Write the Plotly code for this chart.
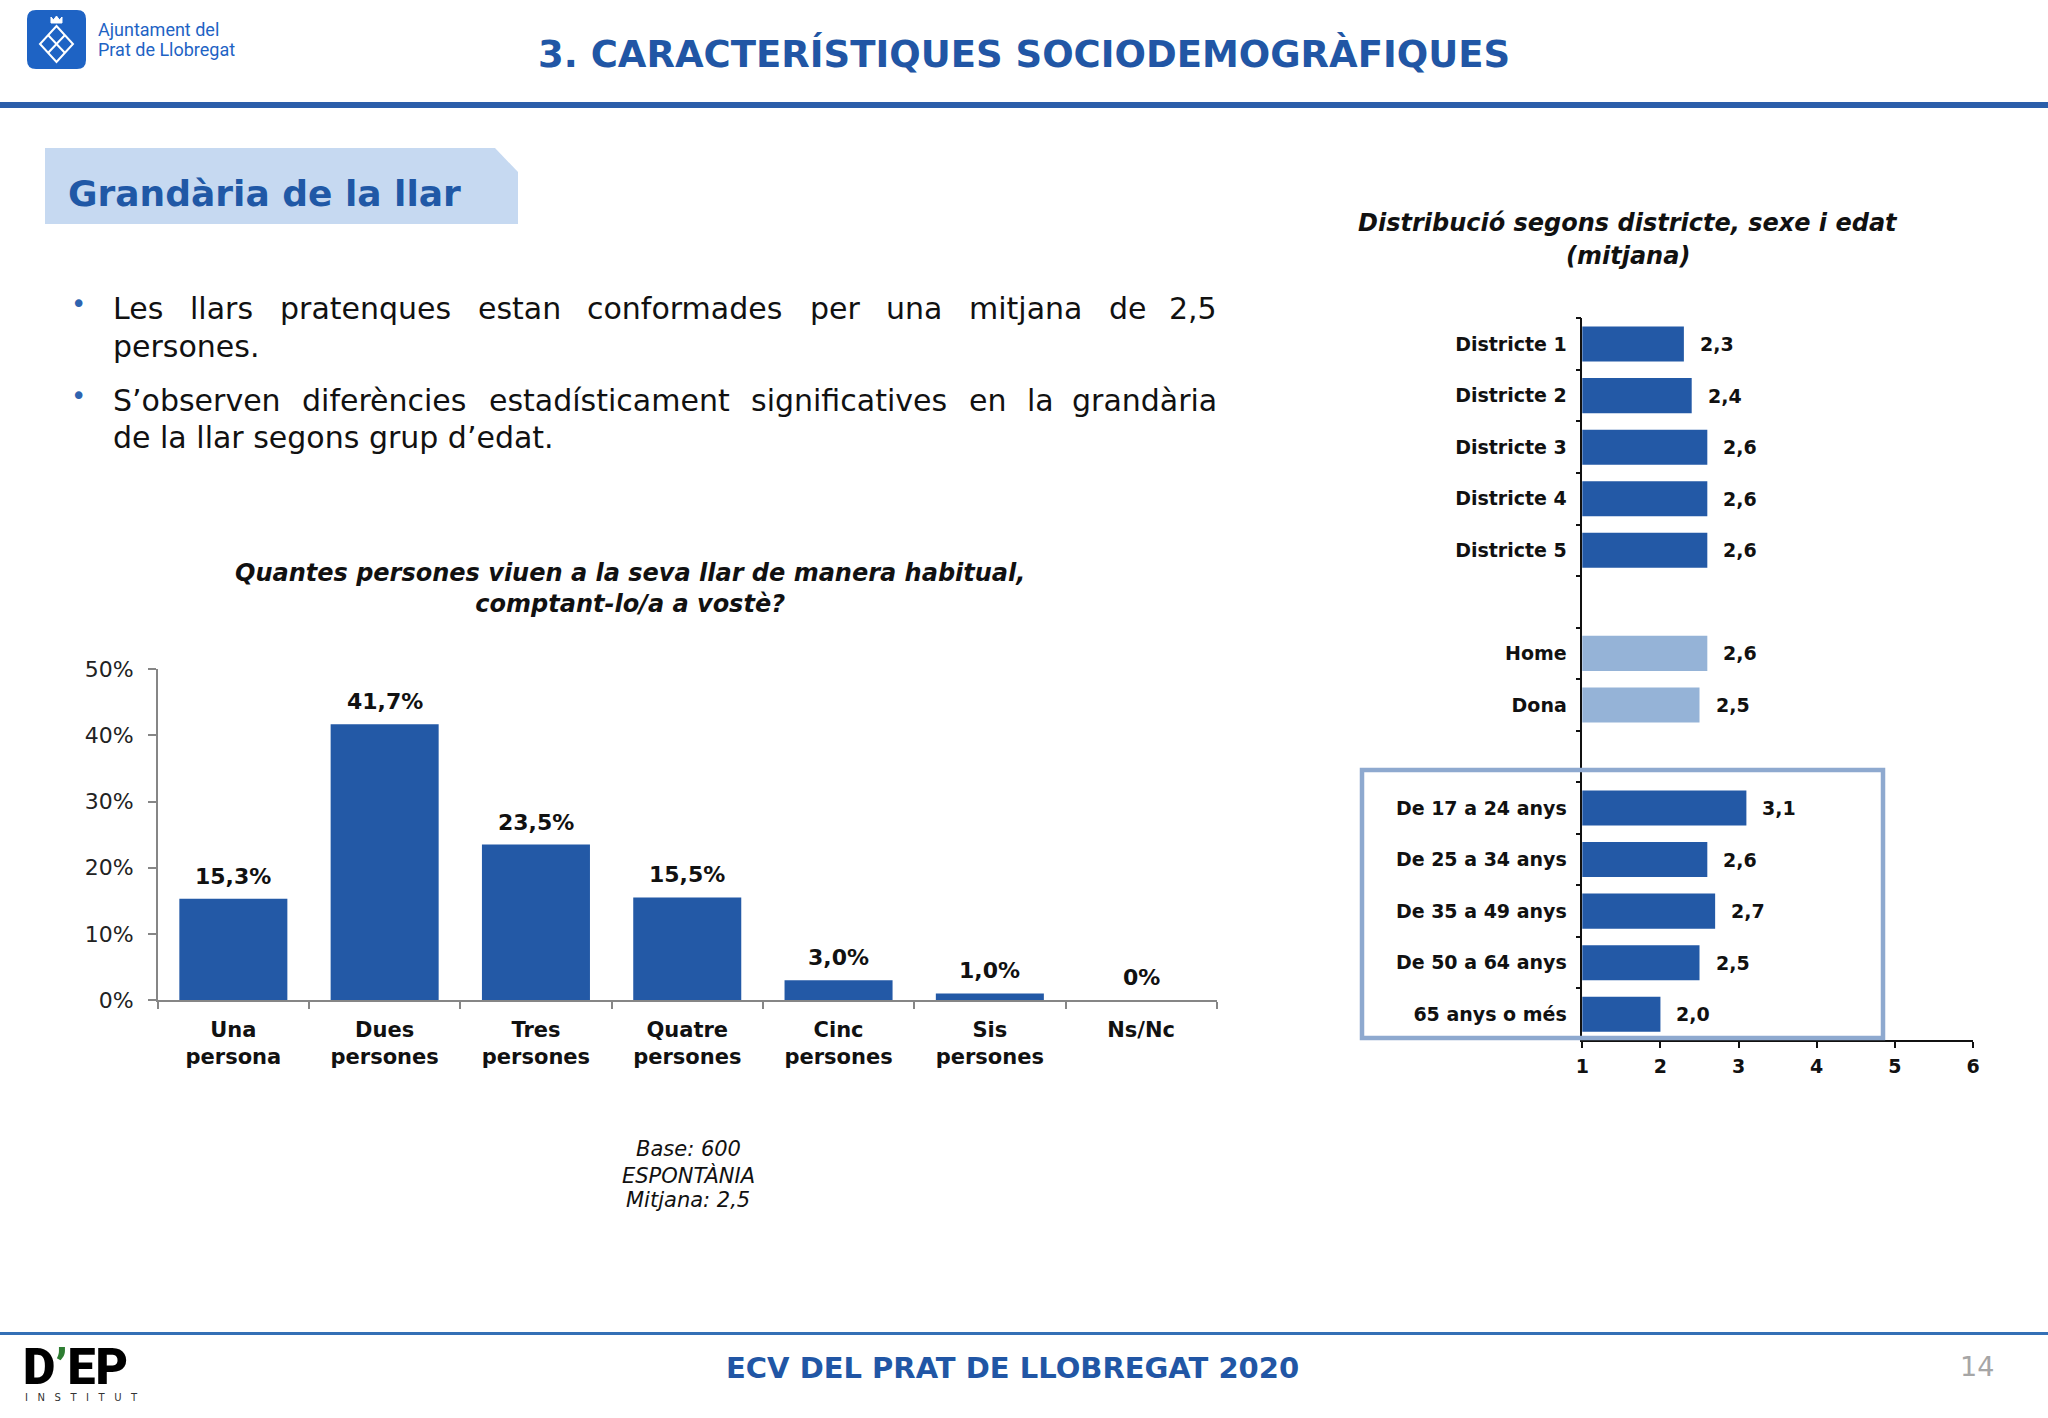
import plotly.graph_objects as go

W, H = 2048, 1418

# ---------------- data ----------------
size_categories = ["Una<br>persona", "Dues<br>persones", "Tres<br>persones",
                   "Quatre<br>persones", "Cinc<br>persones", "Sis<br>persones", "Ns/Nc"]
size_pct = [15.3, 41.7, 23.5, 15.5, 3.0, 1.0, 0.0]
pct_ticks = [0, 10, 20, 30, 40, 50]
pct_tick_labels = [f"{t}%" for t in pct_ticks]

group_labels = ["Districte 1", "Districte 2", "Districte 3", "Districte 4", "Districte 5",
                " ", "Home", "Dona", "  ",
                "De 17 a 24 anys", "De 25 a 34 anys", "De 35 a 49 anys",
                "De 50 a 64 anys", "65 anys o més"]
group_means = [2.3, 2.4, 2.6, 2.6, 2.6, None, 2.6, 2.5, None, 3.1, 2.6, 2.7, 2.5, 2.0]
group_kind = ["district"] * 5 + ["gap"] + ["sex"] * 2 + ["gap"] + ["age"] * 5
mean_ticks = [1, 2, 3, 4, 5, 6]

bullet_1 = ["Les llars pratenques estan conformades per una mitjana de 2,5", "persones."]
bullet_2 = ["S’observen diferències estadísticament significatives en la grandària",
            "de la llar segons grup d’edat."]

# ---------------- styles ----------------
DARK = "#2359A6"
LIGHT = "#95B3D7"
TITLE_BLUE = "#2156A5"
FONT = "DejaVu Sans"
NARROW = "Roboto, Liberation Sans, sans-serif"
kind_color = {"district": DARK, "sex": LIGHT, "age": DARK, "gap": DARK}


def fx(x):
    return x / W


def fy(y):
    return 1 - y / H


def fmt_pct(v):
    return "0%" if v == 0 else f"{v:.1f}".replace(".", ",") + "%"


def fmt_mean(v):
    return f"{v:.1f}".replace(".", ",")


annotations = []
shapes = []


def text(x, y, s, size, color="#111111", bold=False, italic=False,
         xanchor="center", yanchor="middle", family=FONT, weight=None):
    annotations.append(dict(
        x=fx(x), y=fy(y), xref="paper", yref="paper", text=s, showarrow=False,
        xanchor=xanchor, yanchor=yanchor, align="center",
        font=dict(family=family, size=size, color=color,
                  weight=weight if weight else ("bold" if bold else "normal"),
                  style="italic" if italic else "normal")))


# approximate DejaVu Sans advance widths (em/1000)
CW = {' ': 318, 'a': 613, 'b': 635, 'c': 550, 'd': 635, 'e': 615, 'f': 352, 'g': 635,
      'h': 634, 'i': 278, 'j': 278, 'k': 579, 'l': 278, 'm': 974, 'n': 634, 'o': 612,
      'p': 635, 'q': 635, 'r': 411, 's': 521, 't': 392, 'u': 634, 'v': 592, 'w': 818,
      'x': 592, 'y': 592, 'z': 525, ',': 318, '.': 318, '’': 318, 'L': 557, 'S': 635,
      'à': 613, 'è': 615, 'í': 278}


def word_w(w, size):
    return sum(CW.get(c, 636) for c in w) / 1000 * size


def justified(line, x0, x1, y, size):
    words = line.split(" ")
    total = sum(word_w(w, size) for w in words)
    gap = (x1 - x0 - total) / (len(words) - 1)
    x = x0
    for i, w in enumerate(words):
        if i == len(words) - 1:
            text(x1, y, w, size, xanchor="right")
        else:
            text(x, y, w, size, xanchor="left")
        x += word_w(w, size) + gap


def rect(x0, y0, x1, y1, fill, line_color=None, lw=0):
    shapes.append(dict(type="rect", xref="paper", yref="paper",
                       x0=fx(x0), x1=fx(x1), y0=fy(y1), y1=fy(y0),
                       fillcolor=fill, line=dict(color=line_color or fill, width=lw)))


def path(points, fill, line_color=None, lw=0, closed=True):
    d = "M " + " L ".join(f"{fx(x):.5f},{fy(y):.5f}" for x, y in points)
    if closed:
        d += " Z"
    shapes.append(dict(type="path", xref="paper", yref="paper", path=d,
                       fillcolor=fill if closed else None,
                       line=dict(color=line_color or fill, width=lw)))


# ---------------- header ----------------
x0, y0, x1, y1, r = 27, 10, 86, 69, 9
d = (f"M {fx(x0 + r)},{fy(y0)} L {fx(x1 - r)},{fy(y0)} Q {fx(x1)},{fy(y0)} {fx(x1)},{fy(y0 + r)} "
     f"L {fx(x1)},{fy(y1 - r)} Q {fx(x1)},{fy(y1)} {fx(x1 - r)},{fy(y1)} "
     f"L {fx(x0 + r)},{fy(y1)} Q {fx(x0)},{fy(y1)} {fx(x0)},{fy(y1 - r)} "
     f"L {fx(x0)},{fy(y0 + r)} Q {fx(x0)},{fy(y0)} {fx(x0 + r)},{fy(y0)} Z")
shapes.append(dict(type="path", xref="paper", yref="paper", path=d,
                   fillcolor="#1E63C4", line=dict(width=0)))
path([(56.5, 26), (73, 44), (56.5, 62), (40, 44)], "rgba(0,0,0,0)", "white", 2)
path([(51, 23), (51, 17), (53.5, 20), (56.5, 16), (59.5, 20), (62, 17), (62, 23)], "white", "white", 1)
path([(48, 53), (65, 35)], "rgba(0,0,0,0)", "white", 2, closed=False)
path([(48, 35), (65, 53)], "rgba(0,0,0,0)", "white", 2, closed=False)
text(96, 30, "Ajuntament del", 18, color="#1E63C4", xanchor="left", family=NARROW)
text(96, 50, "Prat de Llobregat", 18, color="#1E63C4", xanchor="left", family=NARROW)

text(1024, 54, "3. CARACTERÍSTIQUES SOCIODEMOGRÀFIQUES", 37, color=TITLE_BLUE, bold=True)
rect(0, 102, W, 108, "#2B5EAA")

# section box
path([(45, 148), (495, 148), (518, 172), (518, 224), (45, 224)], "#C6D9F1")
text(66, 193, "Grandària de la llar", 36, color="#2058A6", bold=True, xanchor="left")

# bullets
BS = 30
text(78, 304, "•", 26, color="#2E64B0")
justified(bullet_1[0], 111, 1219, 308, BS)
text(111, 347, bullet_1[1], BS, xanchor="left")
text(78, 396, "•", 26, color="#2E64B0")
justified(bullet_2[0], 111, 1219, 400, BS)
text(111, 437, bullet_2[1], BS, xanchor="left")

# chart titles
text(630, 588, "Quantes persones viuen a la seva llar de manera habitual,<br>comptant-lo/a a vostè?",
     24, bold=True, italic=True)
text(1628, 223, "Distribució segons districte, sexe i edat", 24, bold=True, italic=True)
text(1628, 256, "(mitjana)", 24, bold=True, italic=True)

# base note
text(688, 1149, "Base: 600", 21, italic=True)
text(688, 1175, "ESPONTÀNIA", 21, italic=True)
text(688, 1200, "Mitjana: 2,5", 21, italic=True)

# footer
rect(0, 1332, W, 1335, "#3470B6")
text(1012, 1368, "ECV DEL PRAT DE LLOBREGAT 2020", 29, color=TITLE_BLUE, bold=True)
text(1977, 1366, "14", 27, color="#A6A6A6")
text(21, 1367, "D<span style='color:#2E7D32'>’</span>EP", 50, color="#000000",
     xanchor="left", family=NARROW, weight=900)
text(23, 1397, "I   N   S   T   I   T   U   T", 10, color="#333333", xanchor="left")

# highlight box around age groups
rect(1362, 770, 1883, 1038, "rgba(0,0,0,0)", "#8EA9CF", 4.5)

# ---------------- charts ----------------
fig = go.Figure()
fig.add_trace(go.Bar(x=size_categories, y=size_pct, width=0.714,
                     marker=dict(color=DARK, line=dict(width=0)),
                     xaxis="x", yaxis="y", hoverinfo="skip"))
fig.add_trace(go.Bar(y=group_labels, x=group_means, orientation="h", width=0.68,
                     marker=dict(color=[kind_color[k] for k in group_kind], line=dict(width=0)),
                     xaxis="x2", yaxis="y2", hoverinfo="skip"))

for c, v in zip(size_categories, size_pct):
    annotations.append(dict(x=c, y=v, xref="x", yref="y", text=fmt_pct(v), showarrow=False,
                            xanchor="center", yanchor="bottom", yshift=8,
                            font=dict(family=FONT, size=22, color="#111111", weight="bold")))
for c, v in zip(group_labels, group_means):
    if v is None:
        continue
    annotations.append(dict(x=v, y=c, xref="x2", yref="y2", text=fmt_mean(v), showarrow=False,
                            xanchor="left", yanchor="middle", xshift=14,
                            font=dict(family=FONT, size=19, color="#111111", weight="bold")))

common_axis = dict(automargin=False, showgrid=False, zeroline=False, fixedrange=True)

fig.update_layout(
    template="none",
    width=W, height=H, margin=dict(l=0, r=0, t=0, b=0, pad=0, autoexpand=False), autosize=False,
    paper_bgcolor="white", plot_bgcolor="rgba(0,0,0,0)", showlegend=False,
    font=dict(family=FONT, color="#111111"),
    xaxis=dict(domain=[fx(157.7), fx(1216.8)], anchor="y", type="category",
               showline=True, linecolor="#868686", linewidth=1.5,
               ticks="outside", tickson="boundaries", ticklen=7, tickcolor="#868686", tickwidth=1.5,
               tickfont=dict(family=FONT, size=21, color="#111111", weight="bold"),
               ticklabelstandoff=10, **common_axis),
    yaxis=dict(domain=[fy(1000), fy(669.3)], anchor="x", range=[0, 50],
               tickmode="array", tickvals=pct_ticks, ticktext=pct_tick_labels,
               showline=True, linecolor="#868686", linewidth=1.5,
               ticks="outside", ticklen=8, tickcolor="#868686", tickwidth=1.5,
               tickfont=dict(family=FONT, size=22, color="#222222"),
               ticklabelstandoff=10, **common_axis),
    xaxis2=dict(domain=[fx(1582.3), fx(1973)], anchor="y2", range=[1, 6],
                tickmode="array", tickvals=mean_ticks,
                showline=True, linecolor="#111111", linewidth=1.5,
                ticks="outside", ticklen=6, tickcolor="#111111", tickwidth=1.5,
                tickfont=dict(family=FONT, size=19, color="#111111", weight="bold"),
                ticklabelstandoff=2, **common_axis),
    yaxis2=dict(domain=[fy(1040), fy(318.3)], anchor="x2", type="category",
                categoryorder="array", categoryarray=group_labels,
                range=[len(group_labels) - 0.5, -0.5],
                showline=True, linecolor="#111111", linewidth=1.5,
                ticks="outside", tickson="boundaries", ticklen=5, tickcolor="#111111", tickwidth=1.5,
                tickfont=dict(family=FONT, size=19, color="#111111", weight="bold"),
                ticklabelstandoff=10, **common_axis),
    annotations=annotations, shapes=shapes,
)

fig.write_html("out.html",
               config={"displayModeBar": False, "responsive": False},
               post_script=("document.documentElement.style.margin='0';"
                            "document.body.style.margin='0';document.body.style.padding='0';"
                            "document.body.style.overflow='hidden';"))
